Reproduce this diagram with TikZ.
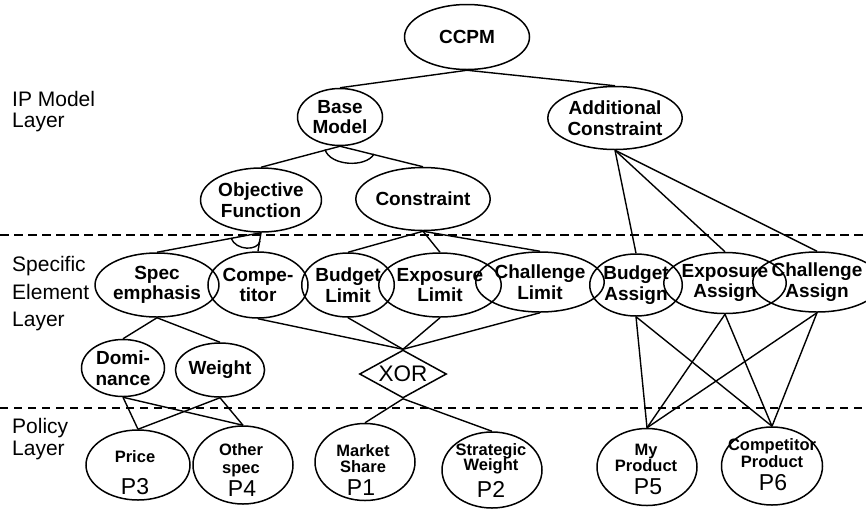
\documentclass[tikz,border=0pt]{standalone}
\usepackage{fontspec}
\setmainfont{Liberation Sans}
\usetikzlibrary{shapes.geometric}
\newcommand\nodefont{\fontsize{19}{20.5}\selectfont\bfseries}
\newcommand\polfont{\fontsize{16.5}{17}\selectfont\bfseries}
\newcommand\numfont{\fontsize{23}{23}\selectfont}
\newcommand\layfont{\fontsize{21}{21}\selectfont}
\begin{document}
\begin{tikzpicture}[x=1pt,y=-1pt,
  sz/.style 2 args={minimum width=#1,minimum height=#2},
  ell/.style={ellipse,draw,line width=1.5pt,inner sep=0pt,align=center,font=\nodefont},
  pell/.style={ellipse,draw,line width=1.5pt,inner sep=0pt},
  conn/.style={line width=1.4pt},
  ptxt/.style={anchor=base,inner sep=0pt,font=\polfont},
  pnum/.style={anchor=base,inner sep=0pt,font=\numfont},
  lay/.style={anchor=base west,inner sep=0pt,font=\layfont},
  sepA/.style={line width=2.4pt,dash pattern=on 9pt off 5pt},
  sepB/.style={line width=1.5pt,dash pattern=on 8pt off 6pt}]
\useasboundingbox (0,0) rectangle (866,512);

% layer labels
\node[lay] (l1a) at (12,106) {IP Model};
\node[lay] (l1b) at (12,127) {Layer};
\node[lay] (l2a) at (12,271) {Specific};
\node[lay] (l2b) at (12,299) {Element};
\node[lay] (l2c) at (12,326) {Layer};
\node[lay] (l3a) at (12,433) {Policy};
\node[lay] (l3b) at (12,455) {Layer};

% IP model layer
\node[ell,sz={125pt}{65pt}] (ccpm) at (467,37) {CCPM};
\node[ell,sz={85pt}{57pt}] (base) at (340,117) {Base\\Model};
\node[ell,sz={125pt}{63pt}] (addc) at (615,118) {Additional\\Constraint};
\node[ell,sz={108pt}{64pt}] (obj) at (261,200) {Objective\\Function};
\node[ell,sz={123pt}{63pt}] (cons) at (423,199) {Constraint};

% specific element layer
\node[ell,sz={107pt}{64pt}] (spec) at (157,285) {Spec\\emphasis};
\node[ell,sz={83pt}{66pt}] (comp) at (258,285) {Compe-\\titor};
\node[ell,sz={80pt}{64pt}] (bl) at (348,285) {Budget\\Limit};
\node[ell,sz={95pt}{64pt}] (el) at (440,285) {Exposure\\Limit};
\node[ell,sz={95pt}{60pt}] (cl) at (540,282) {Challenge\\Limit};
\node[ell,sz={83pt}{62pt}] (ba) at (636,285) {Budget\\Assign};
\node[ell,sz={86pt}{61pt}] (ea) at (725,283) {Exposure\\Assign};
\node[ell,sz={93pt}{60pt}] (ca) at (817,282) {Challenge\\Assign};
\node[ell,sz={83pt}{57pt}] (dom) at (123,368) {Domi-\\nance};
\node[ell,sz={84pt}{54pt}] (wt) at (220,370) {Weight};
\node[diamond,draw,line width=1.5pt,inner sep=0pt,aspect=1.8,sz={87pt}{48pt},font=\fontsize{22.5}{22.5}\selectfont] (xor) at (403,374) {XOR};

% policy layer
\node[pell,sz={104pt}{70pt}] (price) at (138,465) {};
\node[pell,sz={100pt}{78pt}] (other) at (243,465) {};
\node[pell,sz={100pt}{77pt}] (ms) at (365,462) {};
\node[pell,sz={100pt}{76pt}] (sw) at (492,470) {};
\node[pell,sz={100pt}{77pt}] (mp) at (647,467) {};
\node[pell,sz={101pt}{78pt}] (cp) at (772,466) {};

\node[ptxt] (price1) at (135,462) {Price};
\node[pnum] (price2) at (135,494) {P3};
\node[ptxt] (other1) at (241,455) {Other};
\node[ptxt] (other2) at (241,473) {spec};
\node[pnum] (other3) at (242,496) {P4};
\node[ptxt] (ms1) at (363,456) {Market};
\node[ptxt] (ms2) at (363,472) {Share};
\node[pnum] (ms3) at (361,495) {P1};
\node[ptxt] (sw1) at (491,455) {Strategic};
\node[ptxt] (sw2) at (491,470) {Weight};
\node[pnum] (sw3) at (491,497) {P2};
\node[ptxt] (mp1) at (646,455) {My};
\node[ptxt] (mp2) at (646,471) {Product};
\node[pnum] (mp3) at (648,494) {P5};
\node[ptxt] (cp1) at (772,450) {Competitor};
\node[ptxt] (cp2) at (772,467) {Product};
\node[pnum] (cp3) at (773,490) {P6};

% separators
\coordinate (a1) at (0,235); \coordinate (a2) at (866,235);
\coordinate (b1) at (0,408); \coordinate (b2) at (866,408);
\draw[sepA] (a1) -- (a2);
\draw[sepB] (b1) -- (b2);

% connectors
\draw[conn] (ccpm.south) -- (base.north);
\draw[conn] (ccpm.south) -- (addc.north);
\draw[conn] (base.south) -- (obj.north);
\draw[conn] (base.south) -- (cons.north);
\draw[conn] (325,149.5) .. controls (330,166) and (366,168) .. (374,154);
\draw[conn] (obj.south) -- (spec.north);
\draw[conn] (obj.south) -- (comp.north);
\draw[conn] (231,238) .. controls (236,251) and (258,251) .. (260,241);
\draw[conn] (cons.south) -- (bl.north);
\draw[conn] (cons.south) -- (el.north);
\draw[conn] (cons.south) -- (cl.north);
\draw[conn] (addc.south) -- (ba.north);
\draw[conn] (addc.south) -- (ea.north);
\draw[conn] (addc.south) -- (ca.north);
\draw[conn] (spec.south) -- (dom.north);
\draw[conn] (spec.south) -- (wt.north);
\foreach \n in {comp,bl,el,cl} \draw[conn] (\n.south) -- (xor.north);
\draw[conn] (xor.south) -- (ms.north);
\draw[conn] (xor.south) -- (sw.north);
\foreach \n in {dom,wt} {\draw[conn] (\n.south) -- (price.north); \draw[conn] (\n.south) -- (other.north);}
\foreach \n in {ba,ea,ca} {\draw[conn] (\n.south) -- (mp.north); \draw[conn] (\n.south) -- (cp.north);}
\end{tikzpicture}
\end{document}
